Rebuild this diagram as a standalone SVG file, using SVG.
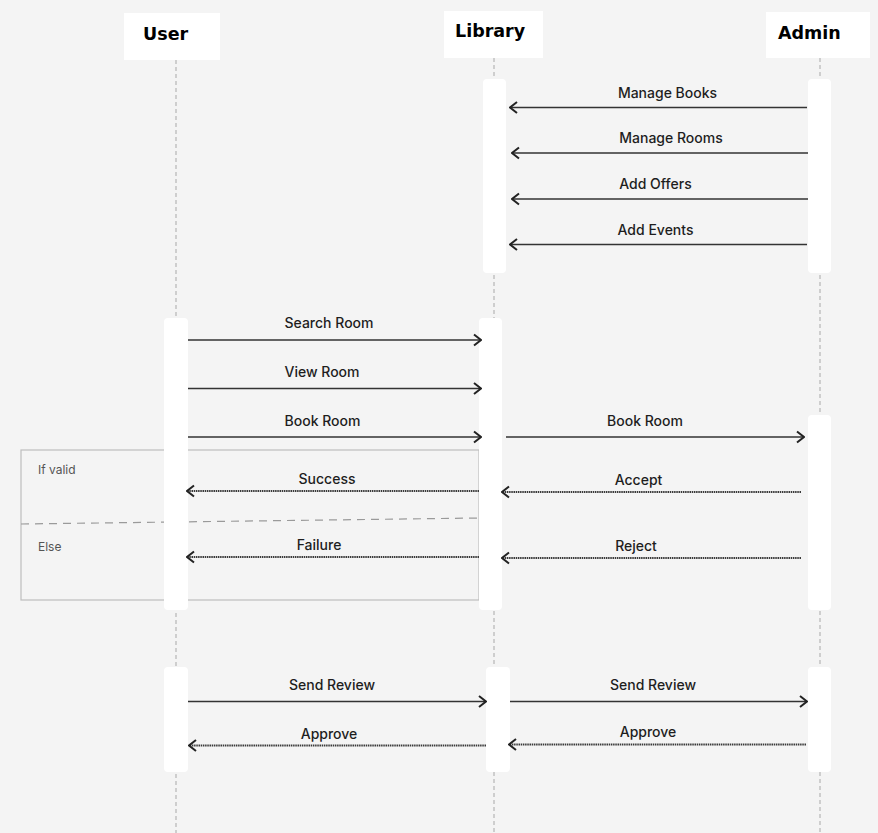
<svg xmlns="http://www.w3.org/2000/svg" width="878" height="833" viewBox="0 0 878 833">
<style>
.hdr{fill:#fff}
.hdrt{font-family:"DejaVu Sans",sans-serif;font-weight:bold;font-size:17.5px;fill:#000}
.life{stroke:#a8a8a8;stroke-width:1;stroke-dasharray:4 3;fill:none}
.act{fill:#fff}
.msg{stroke:#333;stroke-width:1.7;fill:none}
.ret{stroke:#3a3a3a;stroke-width:2;stroke-dasharray:1.5 0.7;fill:none}
.lbl{font-family:Inter,"Liberation Sans",sans-serif;font-weight:500;font-size:14px;fill:#1e1e1e;text-anchor:middle}
.frm{stroke:#bdbdbd;stroke-width:1.2;fill:none}
.div{stroke:#9a9a9a;stroke-width:1.2;stroke-dasharray:8 6;fill:none}
.cond{font-family:Inter,"Liberation Sans",sans-serif;font-size:12px;fill:#555}
</style>
<defs>
<marker id="arr" viewBox="0 0 10 14" refX="9" refY="7" markerWidth="10" markerHeight="14" markerUnits="userSpaceOnUse" orient="auto">
<path d="M2,1.5 L9,7 L2,12.5" fill="none" stroke="#222" stroke-width="2"/>
</marker>
</defs>
<rect width="878" height="833" fill="#f4f4f4"/>
<g id="lifelines">
<line class="life" x1="176" y1="60" x2="176" y2="833"/>
<line class="life" x1="494" y1="58" x2="494" y2="833"/>
<line class="life" x1="820" y1="58" x2="820" y2="833"/>
</g>
<g id="alt-frame">
<rect class="frm" x="21" y="450" width="458" height="150"/>
<line class="div" x1="21" y1="524" x2="479" y2="518"/>
<text class="cond" x="38" y="474">If valid</text>
<text class="cond" x="38" y="551">Else</text>
</g>
<g id="user">
<rect class="hdr" x="124" y="13" width="96" height="47"/>
<text class="hdrt" x="143" y="40">User</text>
<rect class="act" x="164" y="318" width="24" height="292" rx="4"/>
<rect class="act" x="164" y="667" width="24" height="105" rx="4"/>
</g>
<g id="library">
<rect class="hdr" x="444" y="11" width="99" height="47"/>
<text class="hdrt" x="455" y="37">Library</text>
<rect class="act" x="483" y="79" width="23" height="194" rx="4"/>
<rect class="act" x="479" y="318" width="23" height="292" rx="4"/>
<rect class="act" x="486" y="667" width="24" height="105" rx="4"/>
</g>
<g id="admin">
<rect class="hdr" x="766" y="12" width="104" height="46"/>
<text class="hdrt" x="778" y="39">Admin</text>
<rect class="act" x="808" y="79" width="23" height="194" rx="4"/>
<rect class="act" x="808" y="415" width="23" height="195" rx="4"/>
<rect class="act" x="808" y="667" width="23" height="105" rx="4"/>
</g>
<g id="connectors">
<line class="msg" x1="807" y1="107.5" x2="510" y2="107.5" marker-end="url(#arr)"/>
<line class="msg" x1="808" y1="153" x2="512" y2="153" marker-end="url(#arr)"/>
<line class="msg" x1="808" y1="199" x2="512" y2="199" marker-end="url(#arr)"/>
<line class="msg" x1="807" y1="244.5" x2="510" y2="244.5" marker-end="url(#arr)"/>
<line class="msg" x1="188" y1="340" x2="481" y2="340" marker-end="url(#arr)"/>
<line class="msg" x1="188" y1="388.5" x2="481" y2="388.5" marker-end="url(#arr)"/>
<line class="msg" x1="188" y1="437" x2="481" y2="437" marker-end="url(#arr)"/>
<line class="msg" x1="506" y1="437" x2="804" y2="437" marker-end="url(#arr)"/>
<line class="ret" x1="479" y1="491" x2="187" y2="491" marker-end="url(#arr)"/>
<line class="ret" x1="801" y1="492" x2="502" y2="492" marker-end="url(#arr)"/>
<line class="ret" x1="479" y1="557" x2="187" y2="557" marker-end="url(#arr)"/>
<line class="ret" x1="801" y1="558" x2="502" y2="558" marker-end="url(#arr)"/>
<line class="msg" x1="188" y1="701.5" x2="486" y2="701.5" marker-end="url(#arr)"/>
<line class="msg" x1="510" y1="701.5" x2="807" y2="701.5" marker-end="url(#arr)"/>
<line class="ret" x1="486" y1="745.5" x2="189" y2="745.5" marker-end="url(#arr)"/>
<line class="ret" x1="806" y1="744.5" x2="509" y2="744.5" marker-end="url(#arr)"/>
</g>
<g id="labels">
<text class="lbl" x="667.5" y="98">Manage Books</text>
<text class="lbl" x="671" y="143">Manage Rooms</text>
<text class="lbl" x="655.5" y="189">Add Offers</text>
<text class="lbl" x="655.5" y="235">Add Events</text>
<text class="lbl" x="329" y="328">Search Room</text>
<text class="lbl" x="322" y="377">View Room</text>
<text class="lbl" x="322.5" y="426">Book Room</text>
<text class="lbl" x="645" y="426">Book Room</text>
<text class="lbl" x="327" y="484">Success</text>
<text class="lbl" x="638.5" y="485">Accept</text>
<text class="lbl" x="319" y="550">Failure</text>
<text class="lbl" x="636" y="551">Reject</text>
<text class="lbl" x="332" y="690">Send Review</text>
<text class="lbl" x="653" y="690">Send Review</text>
<text class="lbl" x="329" y="739">Approve</text>
<text class="lbl" x="648" y="737">Approve</text>
</g>
</svg>
